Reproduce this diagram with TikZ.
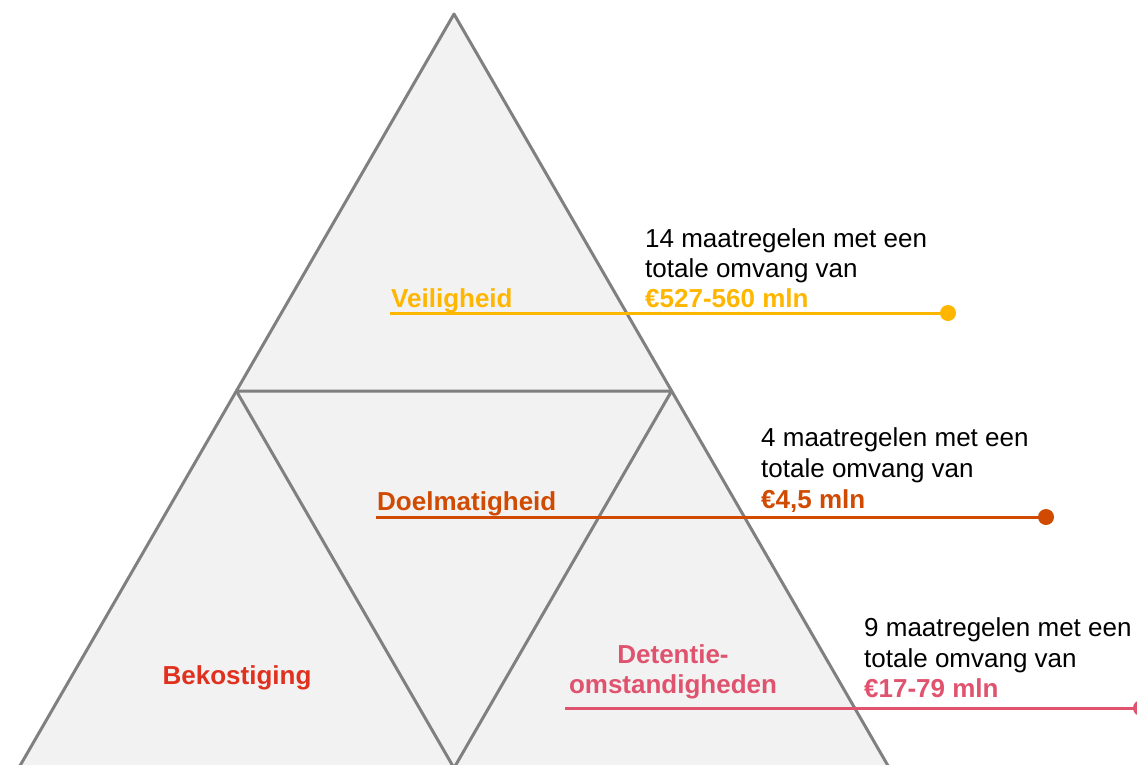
\documentclass[tikz,border=0pt]{standalone}
\usepackage{fontspec}
\setmainfont{Liberation Sans}
\definecolor{pgray}{HTML}{808080}
\definecolor{pfill}{HTML}{F2F2F2}
\definecolor{cyel}{HTML}{FFB600}
\definecolor{cora}{HTML}{D04A02}
\definecolor{crose}{HTML}{E0536E}
\definecolor{cred}{HTML}{E0301E}
\begin{document}
\begin{tikzpicture}[x=1pt,y=-1pt,
  edge/.style={draw=pgray,line width=3pt,line join=round},
  txt/.style={inner sep=0pt,font=\fontsize{26}{30}\selectfont,anchor=base west},
  ctxt/.style={inner sep=0pt,font=\fontsize{26}{30}\selectfont\bfseries,anchor=base},
  lead/.style={line width=3pt},
  dotc/.style={circle,inner sep=0pt,minimum size=16pt}]
\useasboundingbox (0,0) rectangle (1137,764);
\clip (0,0) rectangle (1137,764);
% pyramid
\coordinate (A) at (454,14);
\coordinate (BL) at (18.7,768);
\coordinate (BR) at (889.3,768);
\coordinate (ML) at (236.4,391);
\coordinate (MR) at (671.6,391);
\coordinate (MB) at (454,768);
\fill[pfill] (A) -- (BR) -- (BL) -- cycle;
\draw[edge] (BL) -- (A) -- (BR);
\draw[edge] (ML) -- (MR) -- (MB) -- cycle;
% Veiligheid
\node[txt,font=\fontsize{26}{30}\selectfont\bfseries,text=cyel] (vl) at (391,307) {Veiligheid};
\node[txt] (v1) at (645,247) {14 maatregelen met een};
\node[txt] (v2) at (645,277) {totale omvang van};
\node[txt,font=\fontsize{26}{30}\selectfont\bfseries,text=cyel] (v3) at (645,307) {€527-560 mln};
\coordinate (vs) at (390,313);
\node[dotc,fill=cyel] (vd) at (948,313) {};
\draw[lead,cyel] (vs) -- (vd.center);
% Doelmatigheid
\node[txt,font=\fontsize{26}{30}\selectfont\bfseries,text=cora] (dl) at (377,510) {Doelmatigheid};
\node[txt] (d1) at (761,446) {4 maatregelen met een};
\node[txt] (d2) at (761,477) {totale omvang van};
\node[txt,font=\fontsize{26}{30}\selectfont\bfseries,text=cora] (d3) at (761,508) {€4,5 mln};
\coordinate (ds) at (376,517);
\node[dotc,fill=cora] (dd) at (1046,517) {};
\draw[lead,cora] (ds) -- (dd.center);
% Detentieomstandigheden
\node[ctxt,text=crose] (el1) at (673,663) {Detentie-};
\node[ctxt,text=crose] (el2) at (673,693) {omstandigheden};
\node[txt] (e1) at (864,636) {9 maatregelen met een};
\node[txt] (e2) at (864,667) {totale omvang van};
\node[txt,font=\fontsize{26}{30}\selectfont\bfseries,text=crose] (e3) at (864,697) {€17-79 mln};
\coordinate (es) at (565,708);
\node[dotc,fill=crose] (ed) at (1141,708) {};
\draw[lead,crose] (es) -- (ed.center);
% Bekostiging
\node[ctxt,text=cred] (bk) at (237,684) {Bekostiging};
\end{tikzpicture}
\end{document}
